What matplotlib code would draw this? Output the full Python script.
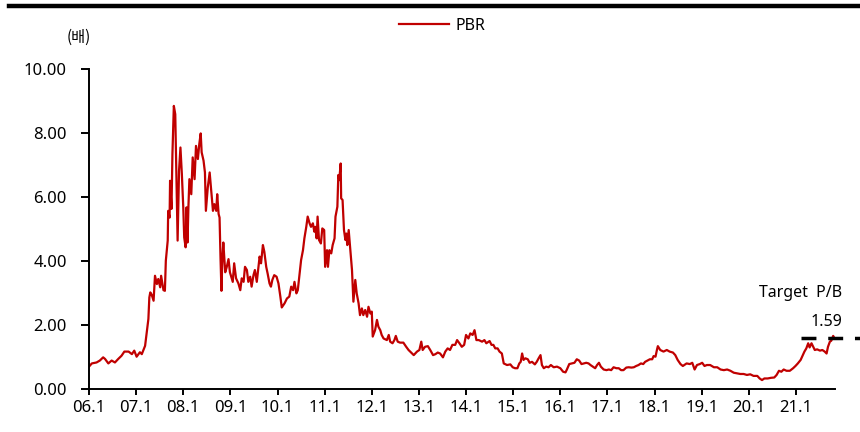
import numpy as np
import matplotlib
matplotlib.use("Agg")
import matplotlib.pyplot as plt
from matplotlib.lines import Line2D

plt.rcParams['font.family'] = ['Noto Sans', 'Noto Sans CJK KR', 'DejaVu Sans']

################################################# Data
# time in decimal years, PBR in 배
t_06_08 = [2006.00, 2006.06, 2006.16, 2006.23, 2006.30, 2006.34, 2006.41, 2006.48, 2006.55, 2006.62,
           2006.69, 2006.75, 2006.84, 2006.91, 2006.96, 2007.01, 2007.08, 2007.12, 2007.19, 2007.22,
           2007.26, 2007.28, 2007.30, 2007.33, 2007.37, 2007.40, 2007.44, 2007.47, 2007.51, 2007.53,
           2007.58, 2007.61, 2007.63, 2007.67, 2007.68, 2007.71, 2007.72, 2007.75, 2007.77, 2007.80,
           2007.83, 2007.86, 2007.88, 2007.91, 2007.94, 2007.97, 2008.00, 2008.02, 2008.05, 2008.07,
           2008.09, 2008.11, 2008.13, 2008.17, 2008.20, 2008.24, 2008.27, 2008.31, 2008.34, 2008.37,
           2008.39, 2008.43, 2008.46, 2008.48, 2008.52, 2008.56, 2008.59, 2008.63, 2008.66, 2008.70,
           2008.72, 2008.75, 2008.77, 2008.79, 2008.81, 2008.83, 2008.85, 2008.89, 2008.92, 2008.96,
           2008.99]
v_06_08 = [0.70, 0.80, 0.83, 0.89, 0.99, 0.94, 0.80, 0.89, 0.83, 0.94,
           1.04, 1.17, 1.17, 1.09, 1.20, 1.01, 1.15, 1.09, 1.35, 1.72,
           2.19, 2.86, 3.02, 2.95, 2.76, 3.54, 3.28, 3.44, 3.18, 3.54,
           3.09, 3.07, 4.01, 4.64, 5.57, 5.36, 6.51, 5.63, 7.34, 8.85,
           8.59, 6.20, 4.64, 6.82, 7.55, 6.72, 5.68, 4.74, 4.43, 5.68,
           4.58, 5.73, 6.56, 6.09, 7.24, 6.56, 7.60, 7.19, 7.66, 7.99,
           7.40, 7.14, 6.77, 5.57, 6.30, 6.77, 6.25, 5.57, 5.78, 5.57,
           6.09, 5.47, 5.36, 4.11, 3.07, 4.11, 4.58, 3.65, 3.80, 4.06,
           3.65]

t_09_11 = [2009.05, 2009.08, 2009.12, 2009.17, 2009.21, 2009.24, 2009.28, 2009.31, 2009.35, 2009.38,
           2009.42, 2009.45, 2009.49, 2009.52, 2009.56, 2009.60, 2009.62, 2009.65, 2009.69, 2009.72,
           2009.76, 2009.79, 2009.83, 2009.86, 2009.89, 2009.93, 2009.98, 2010.02, 2010.06, 2010.09,
           2010.15, 2010.20, 2010.25, 2010.29, 2010.33, 2010.36, 2010.40, 2010.43, 2010.47, 2010.50,
           2010.54, 2010.57, 2010.61, 2010.64, 2010.68, 2010.71, 2010.75, 2010.78, 2010.80, 2010.83,
           2010.85, 2010.88, 2010.92, 2010.95, 2010.99, 2011.01, 2011.05, 2011.07, 2011.10, 2011.14,
           2011.17, 2011.21, 2011.23, 2011.27, 2011.29, 2011.31, 2011.34, 2011.35, 2011.38, 2011.41,
           2011.44, 2011.46, 2011.48, 2011.51, 2011.54, 2011.58, 2011.61, 2011.65, 2011.68, 2011.72]
v_09_11 = [3.35, 3.93, 3.46, 3.30, 3.09, 3.46, 3.35, 3.82, 3.72, 3.35,
           3.51, 3.20, 3.56, 3.72, 3.35, 3.88, 4.14, 3.93, 4.50, 4.29,
           3.82, 3.61, 3.30, 3.20, 3.41, 3.56, 3.51, 3.30, 2.89, 2.55,
           2.68, 2.83, 2.89, 3.20, 3.09, 3.35, 2.99, 3.09, 3.61, 4.03,
           4.34, 4.71, 5.07, 5.39, 5.18, 5.07, 5.18, 4.92, 5.07, 4.71,
           5.39, 4.66, 4.55, 5.02, 4.97, 3.82, 4.34, 3.82, 4.34, 4.24,
           4.50, 4.71, 5.39, 5.70, 6.69, 6.53, 7.05, 5.96, 5.91, 4.97,
           4.66, 4.86, 4.50, 4.97, 4.45, 3.72, 2.73, 3.41, 2.99, 2.68]

t_12_14 = [2011.75, 2011.79, 2011.82, 2011.86, 2011.90, 2011.93, 2011.97, 2012.00, 2012.02, 2012.07,
           2012.11, 2012.14, 2012.18, 2012.21, 2012.25, 2012.32, 2012.36, 2012.39, 2012.44, 2012.48,
           2012.51, 2012.55, 2012.60, 2012.67, 2012.73, 2012.78, 2012.89, 2012.96, 2013.01, 2013.05,
           2013.08, 2013.13, 2013.19, 2013.24, 2013.30, 2013.35, 2013.40, 2013.45, 2013.51, 2013.56,
           2013.61, 2013.66, 2013.71, 2013.77, 2013.81, 2013.86, 2013.91, 2013.96, 2014.00, 2014.05,
           2014.09, 2014.14, 2014.18, 2014.22, 2014.27, 2014.34, 2014.39, 2014.43, 2014.50, 2014.54,
           2014.58, 2014.62, 2014.67, 2014.71]
v_12_14 = [2.31, 2.52, 2.31, 2.47, 2.26, 2.57, 2.36, 2.42, 1.64, 1.84,
           2.16, 1.95, 1.84, 1.69, 1.58, 1.53, 1.69, 1.48, 1.43, 1.53,
           1.66, 1.48, 1.45, 1.45, 1.32, 1.22, 1.06, 1.17, 1.22, 1.48,
           1.22, 1.32, 1.34, 1.22, 1.06, 1.09, 1.14, 1.11, 0.99, 1.17,
           1.27, 1.22, 1.38, 1.38, 1.53, 1.43, 1.32, 1.38, 1.69, 1.58,
           1.74, 1.69, 1.84, 1.53, 1.53, 1.48, 1.53, 1.43, 1.50, 1.38,
           1.38, 1.27, 1.27, 1.17]

t_15_17 = [2014.76, 2014.80, 2014.87, 2014.94, 2014.99, 2015.04, 2015.09, 2015.13, 2015.16, 2015.19,
           2015.22, 2015.26, 2015.31, 2015.35, 2015.40, 2015.46, 2015.50, 2015.54, 2015.58, 2015.61,
           2015.65, 2015.70, 2015.75, 2015.80, 2015.86, 2015.93, 2016.00, 2016.06, 2016.11, 2016.14,
           2016.19, 2016.25, 2016.30, 2016.35, 2016.40, 2016.45, 2016.50, 2016.55, 2016.60, 2016.64,
           2016.69, 2016.74, 2016.78, 2016.82, 2016.86, 2016.92, 2016.98, 2017.03, 2017.08, 2017.13,
           2017.19, 2017.24, 2017.29, 2017.34, 2017.40, 2017.45, 2017.51, 2017.56, 2017.61, 2017.66,
           2017.71, 2017.76, 2017.80, 2017.85, 2017.90, 2017.95, 2017.98, 2018.02, 2018.05, 2018.07]
v_15_17 = [1.11, 0.80, 0.75, 0.77, 0.68, 0.65, 0.65, 0.80, 0.85, 1.11,
           0.91, 0.96, 0.93, 0.82, 0.85, 0.77, 0.85, 0.96, 1.06, 0.75,
           0.65, 0.70, 0.68, 0.75, 0.68, 0.70, 0.65, 0.54, 0.52, 0.61,
           0.78, 0.80, 0.82, 0.93, 0.89, 0.78, 0.80, 0.82, 0.80, 0.75,
           0.70, 0.65, 0.75, 0.82, 0.70, 0.61, 0.59, 0.61, 0.59, 0.68,
           0.65, 0.65, 0.59, 0.59, 0.67, 0.68, 0.67, 0.68, 0.72, 0.75,
           0.80, 0.78, 0.85, 0.89, 0.93, 0.93, 1.03, 1.01, 1.22, 1.34]

t_18_21 = [2018.12, 2018.19, 2018.26, 2018.32, 2018.39, 2018.44, 2018.49, 2018.55, 2018.60, 2018.68,
           2018.75, 2018.80, 2018.85, 2018.90, 2018.96, 2019.01, 2019.06, 2019.11, 2019.18, 2019.26,
           2019.33, 2019.40, 2019.47, 2019.54, 2019.61, 2019.68, 2019.75, 2019.82, 2019.89, 2019.96,
           2020.03, 2020.10, 2020.18, 2020.23, 2020.28, 2020.33, 2020.40, 2020.47, 2020.54, 2020.59,
           2020.64, 2020.69, 2020.74, 2020.80, 2020.87, 2020.94, 2020.99, 2021.04, 2021.10, 2021.13,
           2021.18, 2021.22, 2021.26, 2021.29, 2021.33, 2021.36, 2021.40, 2021.45, 2021.51, 2021.56,
           2021.61, 2021.65, 2021.68, 2021.72, 2021.75, 2021.79, 2021.82]
v_18_21 = [1.22, 1.17, 1.22, 1.17, 1.14, 1.06, 0.91, 0.78, 0.72, 0.80,
           0.78, 0.82, 0.61, 0.75, 0.78, 0.82, 0.72, 0.75, 0.75, 0.68,
           0.68, 0.61, 0.59, 0.61, 0.57, 0.51, 0.49, 0.47, 0.47, 0.44,
           0.46, 0.41, 0.41, 0.33, 0.28, 0.33, 0.33, 0.35, 0.36, 0.44,
           0.57, 0.54, 0.61, 0.57, 0.57, 0.65, 0.72, 0.80, 0.91, 1.01,
           1.17, 1.27, 1.43, 1.30, 1.43, 1.34, 1.22, 1.24, 1.20, 1.22,
           1.17, 1.11, 1.32, 1.48, 1.51, 1.66, 1.58]

Time = t_06_08 + t_09_11 + t_12_14 + t_15_17 + t_18_21
PBR = v_06_08 + v_09_11 + v_12_14 + v_15_17 + v_18_21

target_pb = 1.59
target_start = 2021.10
target_end = 2022.37

tick_years = list(range(2006, 2022))
tick_labels = ["%02d.1" % (y % 100) for y in tick_years]

################################################# Plot
fig = plt.figure(figsize=(8.6, 4.32), dpi=100)
ax = fig.add_axes([0.1035, 0.0995, 0.8675, 0.7405])

ax.plot(Time, PBR, color="#C00000", lw=1.6, label="PBR")
ax.plot([target_start, target_end], [target_pb, target_pb], color="black", lw=2.5,
        dashes=(4.3, 3.4), clip_on=False)

ax.set_xlim(2006, 2021.83)
ax.set_ylim(0, 10)
ax.set_xticks(tick_years)
ax.set_xticklabels(tick_labels)
ax.set_yticks(np.arange(0, 10.1, 2))
ax.set_yticklabels(["%.2f" % v for v in np.arange(0, 10.1, 2)])

for s in ["top", "right"]:
    ax.spines[s].set_visible(False)
for s in ["left", "bottom"]:
    ax.spines[s].set_linewidth(1.4)
ax.tick_params(axis="y", direction="out", length=6, width=1.4, labelsize=12, pad=10)
ax.tick_params(axis="x", direction="out", length=4, width=1.4, labelsize=12, pad=4)

ax.text(2021.99, 3.0, "Target  P/B", ha="right", va="center", fontsize=11.5, clip_on=False)
ax.text(2021.99, 2.09, "1.59", ha="right", va="center", fontsize=11.5, clip_on=False)

fig.text(0.091, 0.913, "(배)", ha="center", va="center", fontsize=11,
         family=["Noto Sans CJK KR", "DejaVu Sans"])

# thick rule at the top
fig.add_artist(Line2D([0.0105, 1.0], [0.986, 0.986], color="black", lw=3.2, transform=fig.transFigure))

fig.legend(handles=[Line2D([], [], color="#C00000", lw=1.6)], labels=["PBR"],
           loc="center", bbox_to_anchor=(0.514, 0.94), frameon=False, fontsize=11.5,
           handlelength=3.1, handletextpad=0.4)

fig.savefig("out.png", dpi=100)
